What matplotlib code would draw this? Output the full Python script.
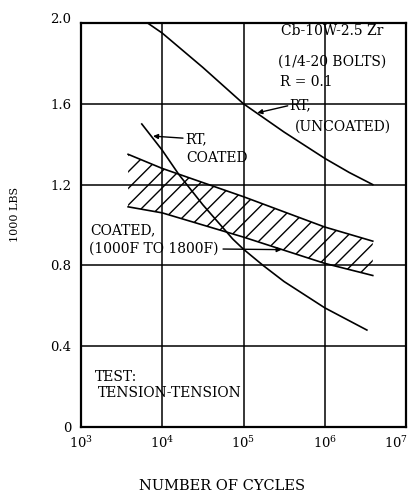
import numpy as np
import matplotlib
matplotlib.use("Agg")
import matplotlib.pyplot as plt
from matplotlib.transforms import ScaledTranslation

# ---- data ----
rt_uncoated_cycles = [6.6e3, 1e4, 3.16e4, 1e5, 3.16e5, 1e6, 2e6, 3.9e6]
rt_uncoated_load = [2.00, 1.95, 1.78, 1.60, 1.46, 1.33, 1.26, 1.20]

rt_coated_cycles = [5.6e3, 1e4, 1.6e4, 3.16e4, 7.4e4, 1e5, 1.74e5, 3.16e5, 1e6, 3.3e6]
rt_coated_load = [1.50, 1.37, 1.25, 1.10, 0.93, 0.88, 0.80, 0.72, 0.59, 0.48]

band_cycles = [3.8e3, 1e4, 1e5, 1e6, 3.9e6]
band_upper = [1.35, 1.28, 1.14, 0.99, 0.92]
band_lower = [1.09, 1.06, 0.94, 0.81, 0.75]

x_ticks = [1e3, 1e4, 1e5, 1e6, 1e7]
x_ticklabels = ["$10^3$", "$10^4$", "$10^5$", "$10^6$", "$10^7$"]
y_ticks = [0, 0.4, 0.8, 1.2, 1.6, 2.0]
y_ticklabels = ["0", "0.4", "0.8", "1.2", "1.6", "2.0"]

FONT = "DejaVu Serif"
plt.rcParams["font.family"] = FONT
plt.rcParams["mathtext.fontset"] = "dejavuserif"
plt.rcParams["hatch.linewidth"] = 1.0

fig = plt.figure(figsize=(4.15, 4.94), dpi=100)
ax = fig.add_axes([81/415, 1-427/494, 325/415, 404/494])

ax.set_xscale("log")
ax.set_xlim(1e3, 1e7)
ax.set_ylim(0, 2.0)

ax.set_xticks(x_ticks)
ax.set_xticklabels(x_ticklabels, fontsize=9.5)
ax.set_yticks(y_ticks)
ax.set_yticklabels(y_ticklabels, fontsize=9.5)
ax.minorticks_off()
ax.tick_params(axis="both", length=0)
ax.tick_params(axis="y", pad=7)
ax.tick_params(axis="x", pad=6)

# last x tick label sits a little inside the figure edge, as in the reference
lbl = ax.get_xticklabels()[-1]
lbl.set_transform(lbl.get_transform() + ScaledTranslation(-10/100, 0, fig.dpi_scale_trans))
# top y tick label sits a little above its gridline
lbl = ax.get_yticklabels()[-1]
lbl.set_transform(lbl.get_transform() + ScaledTranslation(0, 5/100, fig.dpi_scale_trans))

ax.grid(True, color="black", linewidth=1.1)
ax.set_axisbelow(True)
for s in ax.spines.values():
    s.set_linewidth(1.6)

lw = 1.2
ax.plot(rt_uncoated_cycles, rt_uncoated_load, color="black", lw=lw)
ax.plot(rt_coated_cycles, rt_coated_load, color="black", lw=lw)

ax.fill_between(band_cycles, band_lower, band_upper, facecolor="none",
                edgecolor="black", hatch="//", linewidth=0)
ax.plot(band_cycles, band_upper, color="black", lw=lw)
ax.plot(band_cycles, band_lower, color="black", lw=lw)

fs = 10
arrow = dict(arrowstyle="-|>", color="black", lw=1.0, mutation_scale=7,
             shrinkA=0, shrinkB=0)

ax.text(1.23e6, 1.96, "Cb-10W-2.5 Zr", ha="center", va="center", fontsize=fs)
ax.text(1.23e6, 1.81, "(1/4-20 BOLTS)", ha="center", va="center", fontsize=fs)
ax.text(6.0e5, 1.71, "R = 0.1", ha="center", va="center", fontsize=fs)

ax.text(3.7e5, 1.595, "RT,", ha="left", va="center", fontsize=fs)
ax.text(4.3e5, 1.485, "(UNCOATED)", ha="left", va="center", fontsize=fs)
ax.annotate("", xy=(1.48e5, 1.555), xytext=(3.5e5, 1.59), arrowprops=arrow)

ax.text(1.9e4, 1.425, "RT,", ha="left", va="center", fontsize=fs)
ax.text(2.0e4, 1.33, "COATED", ha="left", va="center", fontsize=fs)
ax.annotate("", xy=(7.7e3, 1.44), xytext=(1.8e4, 1.43), arrowprops=arrow)

ax.text(1.29e3, 0.975, "COATED,", ha="left", va="center", fontsize=fs)
ax.text(1.25e3, 0.881, "(1000F TO 1800F)", ha="left", va="center", fontsize=fs)
ax.annotate("", xy=(2.95e5, 0.878), xytext=(5.6e4, 0.881), arrowprops=arrow)

ax.text(1.49e3, 0.248, "TEST:", ha="left", va="center", fontsize=fs)
ax.text(1.62e3, 0.168, "TENSION-TENSION", ha="left", va="center", fontsize=fs)

fig.text(15/415, 1-214/494, "1000 LBS", rotation=90, ha="center", va="center",
         fontsize=8)
fig.text(222/415, 1-486/494, "NUMBER OF CYCLES", ha="center", va="center",
         fontsize=10.5)

fig.savefig("out.png", dpi=100)
